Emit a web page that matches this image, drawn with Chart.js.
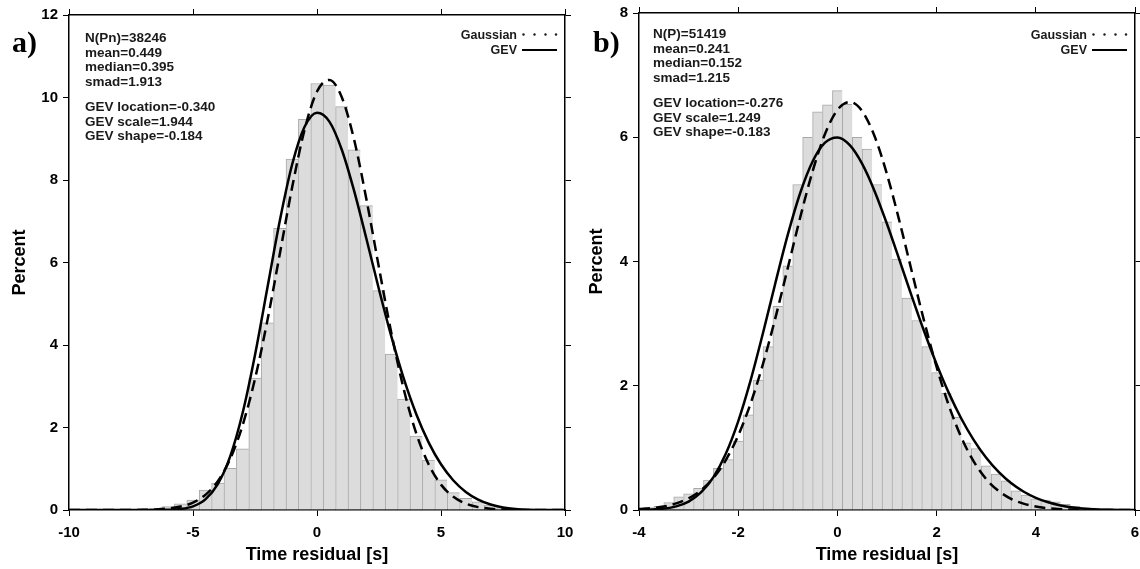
<!DOCTYPE html>
<html>
<head>
<meta charset="utf-8">
<script src="https://cdn.jsdelivr.net/npm/chart.js@4.4.1/dist/chart.umd.min.js"></script>
<style>
  body { margin: 0; background: #fff; }
  #wrap { position: relative; width: 1140px; height: 569px; }
  canvas { position: absolute; top: 0; }
</style>
</head>
<body>
<div id="wrap">
  <canvas id="panelA" width="600" height="569" style="left:0"></canvas>
  <canvas id="panelB" width="570" height="569" style="left:570px"></canvas>
</div>
<script>
// ---- panel a) : Pn residuals, 0.5 s bins ----
const binCentersA = [-7, -6.5, -6, -5.5, -5, -4.5, -4, -3.5, -3, -2.5, -2, -1.5, -1, -0.5, 0,
    0.5, 1, 1.5, 2, 2.5, 3, 3.5, 4, 4.5, 5, 5.5, 6, 6.5, 7, 7.5, 8];
const percentA = [0.02, 0.04, 0.08, 0.15, 0.24, 0.48, 0.65, 1.01, 1.48, 3.2, 4.54, 6.83, 8.51, 9.47, 10.34,
    10.30, 9.78, 8.73, 7.38, 5.32, 3.78, 2.69, 1.79, 1.21, 0.73, 0.42, 0.28, 0.20, 0.12, 0.06, 0.03];
const curveXA = [-10, -9.5, -9, -8.5, -8, -7.5, -7, -6.5, -6, -5.5, -5, -4.5, -4, -3.5, -3, -2.5, -2, -1.5, -1, -0.5, 0,
    0.5, 1, 1.5, 2, 2.5, 3, 3.5, 4, 4.5, 5, 5.5, 6, 6.5, 7, 7.5, 8, 8.5, 9, 9.5, 10];
const gaussA = [0, 0, 0, 0.0002, 0.0006, 0.002, 0.005, 0.014, 0.036, 0.083, 0.180, 0.367, 0.698, 1.239, 2.054, 3.179, 4.597, 6.207, 7.829, 9.222, 10.146,
    10.426, 10.007, 8.969, 7.508, 5.871, 4.287, 2.923, 1.863, 1.108, 0.615, 0.319, 0.155, 0.070, 0.030, 0.012, 0.004, 0.0015, 0.0005, 0, 0];
const gevA = [0, 0, 0, 0, 0, 0, 0.0001, 0.001, 0.006, 0.025, 0.089, 0.258, 0.626, 1.299, 2.350, 3.757, 5.387, 7.012, 8.381, 9.289, 9.631,
    9.416, 8.734, 7.730, 6.557, 5.347, 4.202, 3.184, 2.328, 1.640, 1.108, 0.716, 0.439, 0.252, 0.133, 0.063, 0.026, 0.008, 0.002, 0, 0];
const statsA = ['N(Pn)=38246', 'mean=0.449', 'median=0.395', 'smad=1.913'];
const gevTextA = ['GEV location=-0.340', 'GEV scale=1.944', 'GEV shape=-0.184'];

// ---- panel b) : P residuals, 0.2 s bins ----
const binCentersB = [-3.8, -3.6, -3.4, -3.2, -3.0, -2.8, -2.6, -2.4, -2.2, -2.0, -1.8, -1.6, -1.4, -1.2, -1.0, -0.8, -0.6, -0.4, -0.2, 0,
    0.2, 0.4, 0.6, 0.8, 1.0, 1.2, 1.4, 1.6, 1.8, 2.0, 2.2, 2.4, 2.6, 2.8, 3.0, 3.2, 3.4, 3.6, 3.8, 4.0, 4.2, 4.4, 4.6, 4.8, 5.0, 5.2, 5.4];
const percentB = [0.04, 0.06, 0.12, 0.21, 0.26, 0.35, 0.48, 0.67, 0.81, 1.11, 1.53, 2.09, 2.63, 3.28, 3.93, 5.24, 6.00, 6.41, 6.52, 6.75,
    6.53, 6.00, 5.81, 5.24, 4.64, 4.04, 3.41, 3.05, 2.63, 2.21, 1.88, 1.49, 1.08, 0.99, 0.71, 0.58, 0.47, 0.31, 0.24, 0.18, 0.16, 0.13, 0.09, 0.06, 0.04, 0.03, 0.02];
const curveXB = [-4, -3.75, -3.5, -3.25, -3, -2.75, -2.5, -2.25, -2, -1.75, -1.5, -1.25, -1, -0.75, -0.5, -0.25, 0,
    0.25, 0.5, 0.75, 1, 1.25, 1.5, 1.75, 2, 2.25, 2.5, 2.75, 3, 3.25, 3.5, 3.75, 4, 4.25, 4.5, 4.75, 5, 5.25, 5.5, 5.75, 6];
const gaussB = [0.015, 0.030, 0.057, 0.106, 0.187, 0.317, 0.515, 0.803, 1.199, 1.715, 2.352, 3.093, 3.898, 4.709, 5.453, 6.052, 6.439,
    6.567, 6.420, 6.015, 5.403, 4.652, 3.839, 3.037, 2.303, 1.674, 1.166, 0.779, 0.498, 0.306, 0.180, 0.102, 0.055, 0.028, 0.014, 0.007, 0.003, 0.001, 0.0005, 0, 0];
const gevB = [0.002, 0.008, 0.023, 0.059, 0.136, 0.282, 0.529, 0.905, 1.427, 2.086, 2.849, 3.655, 4.432, 5.103, 5.610, 5.912, 5.996,
    5.872, 5.570, 5.132, 4.603, 4.026, 3.439, 2.873, 2.348, 1.877, 1.469, 1.124, 0.840, 0.612, 0.433, 0.297, 0.196, 0.124, 0.074, 0.042, 0.021, 0.010, 0.004, 0.001, 0];
const statsB = ['N(P)=51419', 'mean=0.241', 'median=0.152', 'smad=1.215'];
const gevTextB = ['GEV location=-0.276', 'GEV scale=1.249', 'GEV shape=-0.183'];

const SANS = '"Liberation Sans", Arial, sans-serif';
const SERIF = '"Liberation Serif", "Times New Roman", serif';

function toPoints(xs, ys) {
    return xs.map((x, i) => ({ x: x, y: ys[i] }));
}

// draws the panel letter, stats block and the little legend
function textPlugin(p) {
    return {
        id: 'panelText',
        afterDraw(chart) {
            const ctx = chart.ctx;
            ctx.save();
            ctx.fillStyle = '#000';
            ctx.textAlign = 'left';
            ctx.textBaseline = 'alphabetic';
            ctx.font = 'bold 30px ' + SERIF;
            ctx.fillText(p.letter, p.letterX, 52);

            ctx.fillStyle = '#1a1a1a';
            ctx.font = 'bold 13.5px ' + SANS;
            p.stats.forEach((s, i) => ctx.fillText(s, p.textX, p.top + i * 14.6));
            p.gevLines.forEach((s, i) => ctx.fillText(s, p.textX, p.top + 69 + i * 14.6));

            // legend
            ctx.font = 'bold 12.5px ' + SANS;
            ctx.textAlign = 'right';
            ctx.fillText('Gaussian', 517, 39);
            ctx.fillText('GEV', 517, 54);
            [523.5, 534.5, 545.5, 556].forEach(x => {
                ctx.beginPath();
                ctx.arc(x, 34.5, 1.2, 0, Math.PI * 2);
                ctx.fill();
            });
            ctx.strokeStyle = '#000';
            ctx.lineWidth = 2;
            ctx.beginPath();
            ctx.moveTo(522, 50);
            ctx.lineTo(557, 50);
            ctx.stroke();
            ctx.restore();
        }
    };
}

function makePanel(id, p) {
    const axisGrid = { drawOnChartArea: false, drawTicks: true, tickLength: 6, color: '#000', lineWidth: 1 };
    const axisBorder = { display: true, color: '#000', width: 1.5 };
    const tickFont = { family: SANS, size: 15, weight: 'bold' };
    const titleFont = { family: SANS, size: 18, weight: 'bold' };

    return new Chart(document.getElementById(id), {
        type: 'bar',
        data: {
            datasets: [
                {
                    type: 'line',
                    label: 'GEV',
                    data: toPoints(p.curveX, p.gev),
                    borderColor: '#000',
                    borderWidth: 2.5,
                    pointRadius: 0,
                    cubicInterpolationMode: 'monotone',
                    order: 0
                },
                {
                    type: 'line',
                    label: 'Gaussian',
                    data: toPoints(p.curveX, p.gauss),
                    borderColor: '#000',
                    borderWidth: 2.5,
                    borderDash: [11, 6],
                    pointRadius: 0,
                    cubicInterpolationMode: 'monotone',
                    order: 0
                },
                {
                    type: 'bar',
                    label: 'histogram',
                    data: toPoints(p.bins, p.percent),
                    backgroundColor: '#dcdcdc',
                    borderColor: '#a8a8a8',
                    borderWidth: { left: 1, top: 1, right: 0, bottom: 0 },
                    borderSkipped: false,
                    barPercentage: 1,
                    categoryPercentage: 1,
                    order: 1
                }
            ]
        },
        options: {
            responsive: false,
            animation: false,
            events: [],
            layout: { padding: 0 },
            plugins: {
                legend: { display: false },
                tooltip: { enabled: false }
            },
            scales: {
                x: {
                    type: 'linear',
                    position: 'bottom',
                    min: p.xMin,
                    max: p.xMax,
                    offset: false,
                    ticks: { stepSize: p.xStep, color: '#000', font: tickFont, padding: 8, maxRotation: 0 },
                    grid: Object.assign({ offset: false }, axisGrid),
                    border: axisBorder,
                    title: { display: true, text: 'Time residual [s]', color: '#000', font: titleFont, padding: { top: 0, bottom: 3 } },
                    afterFit: s => { s.height = 59; s.paddingLeft = 0; s.paddingRight = 0; }
                },
                x2: {
                    type: 'linear',
                    position: 'top',
                    min: p.xMin,
                    max: p.xMax,
                    offset: false,
                    ticks: { stepSize: p.xStep, display: false },
                    grid: Object.assign({ offset: false }, axisGrid),
                    border: axisBorder,
                    afterFit: s => { s.height = p.top0; s.paddingLeft = 0; s.paddingRight = 0; }
                },
                y: {
                    position: 'left',
                    min: 0,
                    max: p.yMax,
                    ticks: { stepSize: 2, color: '#000', font: tickFont, padding: 5 },
                    grid: axisGrid,
                    border: axisBorder,
                    title: { display: true, text: 'Percent', color: '#000', font: titleFont, padding: { top: p.titlePad, bottom: 0 } },
                    afterFit: s => { s.width = 69; s.paddingTop = 0; s.paddingBottom = 0; }
                },
                y2: {
                    position: 'right',
                    min: 0,
                    max: p.yMax,
                    ticks: { stepSize: 2, display: false },
                    grid: axisGrid,
                    border: axisBorder,
                    afterFit: s => { s.width = p.rightW; s.paddingTop = 0; s.paddingBottom = 0; }
                }
            }
        },
        plugins: [textPlugin(p)]
    });
}

makePanel('panelA', {
    bins: binCentersA, percent: percentA, curveX: curveXA, gauss: gaussA, gev: gevA,
    stats: statsA, gevLines: gevTextA,
    xMin: -10, xMax: 10, xStep: 5, yMax: 12, top0: 15, rightW: 35, titlePad: 9,
    letter: 'a)', letterX: 12, textX: 85, top: 42
});

makePanel('panelB', {
    bins: binCentersB, percent: percentB, curveX: curveXB, gauss: gaussB, gev: gevB,
    stats: statsB, gevLines: gevTextB,
    xMin: -4, xMax: 6, xStep: 2, yMax: 8, top0: 13, rightW: 5, titlePad: 16,
    letter: 'b)', letterX: 23, textX: 83, top: 38
});
</script>
</body>
</html>
